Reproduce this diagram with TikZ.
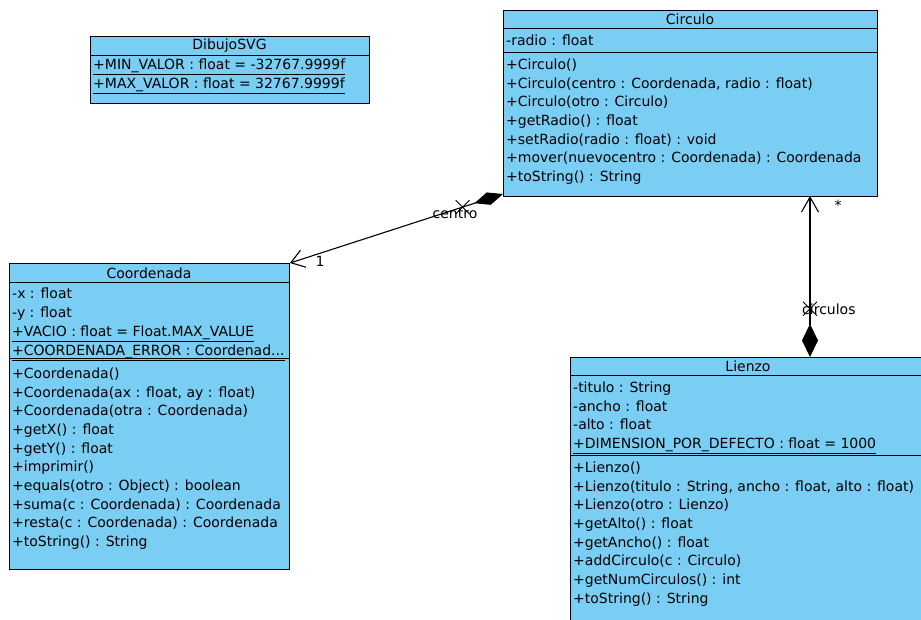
\documentclass[tikz,border=0pt]{standalone}
\usepackage{fontspec}
\setmainfont{DejaVu Sans}
\usepackage{tikz}
\usetikzlibrary{arrows.meta,shapes.misc,positioning}
\definecolor{umlblue}{RGB}{122,206,244}

\begin{document}
\begin{tikzpicture}[x=1pt,y=-1pt,font=\fontsize{14}{16}\selectfont]
    \tikzstyle{classbox}=[draw=black, fill=umlblue, line width=1pt, anchor=north west, inner sep=0pt]
    \tikzstyle{classname}=[inner sep=0pt]
    \tikzstyle{member}=[anchor=west, inner sep=0pt, text height=11.5pt, text depth=2.5pt]
    \tikzstyle{sep}=[line width=1pt]
    \tikzstyle{connect}=[line width=1.1pt]
    \tikzstyle{navx}=[draw, cross out, minimum size=13pt, inner sep=0pt, line width=0.9pt]
    \tikzstyle{tag}=[inner sep=0pt]
    \useasboundingbox (0,0) rectangle (921,619);
    \clip (0,0) rectangle (921,619);

    % DibujoSVG
    \node[classbox, minimum width=279pt, minimum height=67pt] (dibujo) at (90,36) {};
    \draw[sep] ([yshift=-19pt]dibujo.north west) -- ([yshift=-19pt]dibujo.north east);
    \node[classname] (dibujo-name) at (229.5,46) {DibujoSVG};
    \node[member] (dibujo-a1) at (93,65) {\underline{+MIN\_VALOR : float = -32767.9999f}};
    \node[member] (dibujo-a2) at (93,84) {\underline{+MAX\_VALOR : float = 32767.9999f}};

    % Circulo
    \node[classbox, minimum width=374pt, minimum height=186pt] (circulo) at (503,10) {};
    \draw[sep] ([yshift=-18pt]circulo.north west) -- ([yshift=-18pt]circulo.north east);
    \draw[sep] ([yshift=-42pt]circulo.north west) -- ([yshift=-42pt]circulo.north east);
    \node[classname] (circulo-name) at (690,19) {Circulo};
    \node[member] (circulo-a1) at (506,41) {-radio : float};
    \foreach \op [count=\i] in {+Circulo(), {+Circulo(centro : Coordenada, radio : float)}, +Circulo(otro : Circulo), +getRadio() : float, +setRadio(radio : float) : void, +mover(nuevocentro : Coordenada) : Coordenada, +toString() : String}
        \node[member] (circulo-op\i) at (506,{65+18.67*(\i-1)}) {\op};

    % Coordenada
    \node[classbox, minimum width=280pt, minimum height=306pt] (coordenada) at (9,263) {};
    \draw[sep] ([yshift=-19pt]coordenada.north west) -- ([yshift=-19pt]coordenada.north east);
    \draw[sep] ([yshift=-95pt]coordenada.north west) -- ([yshift=-95pt]coordenada.north east);
    \node[classname] (coordenada-name) at (149,273) {Coordenada};
    \foreach \at [count=\i] in {-x : float, -y : float, {\underline{+VACIO : float = Float.MAX\_VALUE}}, {\underline{+COORDENADA\_ERROR : Coordenad...}}}
        \node[member] (coordenada-a\i) at (12,{294+18.9*(\i-1)}) {\at};
    \foreach \op [count=\i] in {+Coordenada(), {+Coordenada(ax : float, ay : float)}, +Coordenada(otra : Coordenada), +getX() : float, +getY() : float, +imprimir(), +equals(otro : Object) : boolean, +suma(c : Coordenada) : Coordenada, +resta(c : Coordenada) : Coordenada, +toString() : String}
        \node[member] (coordenada-op\i) at (12,{374+18.67*(\i-1)}) {\op};

    % Lienzo
    \node[classbox, minimum width=356pt, minimum height=280pt] (lienzo) at (570,357) {};
    \draw[sep] ([yshift=-18pt]lienzo.north west) -- ([yshift=-18pt]lienzo.north east);
    \draw[sep] ([yshift=-98pt]lienzo.north west) -- ([yshift=-98pt]lienzo.north east);
    \node[classname] (lienzo-name) at (748,366) {Lienzo};
    \foreach \at [count=\i] in {-titulo : String, -ancho : float, -alto : float, {\underline{+DIMENSION\_POR\_DEFECTO : float = 1000}}}
        \node[member] (lienzo-a\i) at (573,{388+18.67*(\i-1)}) {\at};
    \foreach \op [count=\i] in {+Lienzo(), {+Lienzo(titulo : String, ancho : float, alto : float)}, +Lienzo(otro : Lienzo), +getAlto() : float, +getAncho() : float, +addCirculo(c : Circulo), +getNumCirculos() : int, +toString() : String}
        \node[member] (lienzo-op\i) at (573,{468+18.67*(\i-1)}) {\op};

    % composiciones
    \draw[connect, {Diamond[length=30pt,width=13pt]}-{Straight Barb[length=13pt,width=18pt]}] ([yshift=3pt]circulo.south west) -- (coordenada.north east) node[navx, pos=0.19] (centro-x) {};
    \node[tag] (centro-lbl) at (455,214) {centro};
    \node[tag] (centro-mult) at (320,261) {1};

    \coordinate (circulos-top) at (810,196);
    \draw[connect, {Diamond[length=33pt,width=16pt]}-{Straight Barb[length=15pt,width=17pt]}] (circulos-top |- lienzo.north) -- (circulos-top) node[navx, pos=0.3] (circulos-x) {};
    \node[tag, anchor=west] (circulos-lbl) at (802,309) {circulos};
    \node[tag] (circulos-mult) at (838,205) {*};
\end{tikzpicture}
\end{document}
